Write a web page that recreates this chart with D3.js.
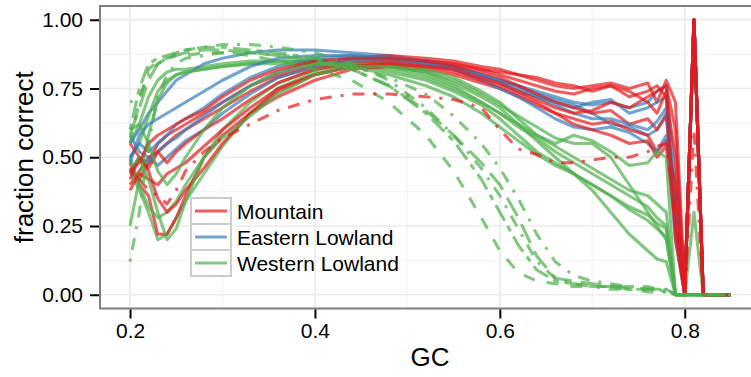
<!DOCTYPE html>
<html>
<head>
<meta charset="utf-8">
<script src="https://cdn.jsdelivr.net/npm/d3@7"></script>
<style>
  body { margin: 0; background: #fff; }
  svg { display: block; font-family: "Liberation Sans", Arial, sans-serif; }
</style>
</head>
<body>
<div id="chart"></div>
<script>
// GC content bins (x values shared by every curve)
var gc = [0.20,0.21,0.22,0.23,0.24,0.25,0.26,0.28,0.30,0.33,0.36,0.40,0.44,0.48,0.52,0.55,0.58,0.60,0.62,0.64,0.66,0.68,0.70,0.72,0.74,0.76,0.77,0.78,0.79,0.80,0.81,0.82,0.85];

// fraction correct, one row per individual
var mountain = [
  [0.45,0.42,0.48,0.55,0.58,0.60,0.62,0.66,0.70,0.76,0.80,0.84,0.86,0.87,0.86,0.85,0.83,0.82,0.80,0.78,0.76,0.75,0.76,0.77,0.75,0.77,0.70,0.78,0.70,0.02,1.00,0.00,0.00],
  [0.40,0.45,0.50,0.52,0.55,0.58,0.60,0.64,0.68,0.74,0.79,0.83,0.85,0.86,0.85,0.84,0.82,0.80,0.78,0.76,0.74,0.73,0.75,0.76,0.72,0.74,0.76,0.72,0.50,0.00,1.00,0.00,0.00],
  [0.48,0.40,0.36,0.22,0.22,0.28,0.36,0.50,0.58,0.66,0.72,0.78,0.82,0.83,0.82,0.80,0.77,0.75,0.72,0.69,0.66,0.64,0.62,0.63,0.60,0.58,0.52,0.56,0.40,0.00,1.00,0.00,0.00],
  [0.42,0.50,0.46,0.52,0.48,0.52,0.55,0.60,0.64,0.71,0.77,0.82,0.84,0.85,0.84,0.83,0.81,0.79,0.76,0.73,0.70,0.68,0.66,0.67,0.62,0.64,0.60,0.65,0.30,0.00,1.00,0.00,0.00],
  [0.38,0.44,0.42,0.40,0.44,0.46,0.48,0.54,0.60,0.68,0.75,0.80,0.83,0.84,0.83,0.81,0.78,0.76,0.73,0.70,0.66,0.62,0.60,0.58,0.55,0.56,0.50,0.54,0.25,0.00,1.00,0.00,0.00],
  [0.55,0.50,0.45,0.35,0.30,0.33,0.38,0.46,0.55,0.66,0.74,0.80,0.83,0.84,0.83,0.82,0.79,0.77,0.74,0.71,0.68,0.66,0.67,0.70,0.68,0.72,0.74,0.76,0.60,0.00,1.00,0.00,0.00],
  [0.45,0.48,0.55,0.58,0.60,0.62,0.64,0.67,0.72,0.78,0.82,0.85,0.86,0.86,0.85,0.84,0.82,0.81,0.80,0.79,0.77,0.76,0.74,0.76,0.74,0.70,0.66,0.74,0.20,0.00,1.00,0.00,0.00],
  [0.45,0.42,0.38,0.36,0.33,0.38,0.45,0.52,0.57,0.62,0.67,0.71,0.73,0.73,0.72,0.71,0.68,0.60,0.53,0.51,0.48,0.48,0.49,0.50,0.50,0.52,0.54,0.55,0.30,0.00,0.60,0.00,0.00]
];
var mountainLty = ['solid','solid','solid','solid','solid','solid','solid','dotdash'];

var eastern = [
  [0.55,0.60,0.66,0.70,0.74,0.78,0.80,0.84,0.86,0.88,0.89,0.89,0.88,0.87,0.85,0.83,0.80,0.78,0.76,0.74,0.72,0.70,0.69,0.70,0.68,0.70,0.74,0.76,0.40,0.00,1.00,0.00,0.00],
  [0.50,0.55,0.52,0.55,0.58,0.62,0.64,0.68,0.73,0.79,0.83,0.86,0.87,0.86,0.85,0.83,0.80,0.78,0.75,0.72,0.70,0.68,0.70,0.71,0.66,0.68,0.70,0.72,0.30,0.00,1.00,0.00,0.00],
  [0.45,0.50,0.48,0.52,0.55,0.57,0.60,0.65,0.70,0.76,0.81,0.85,0.86,0.86,0.85,0.83,0.80,0.78,0.76,0.73,0.71,0.69,0.66,0.62,0.61,0.58,0.60,0.66,0.35,0.00,1.00,0.00,0.00],
  [0.58,0.52,0.50,0.47,0.50,0.53,0.56,0.60,0.66,0.73,0.79,0.83,0.85,0.85,0.84,0.82,0.78,0.75,0.72,0.68,0.64,0.61,0.60,0.61,0.59,0.55,0.52,0.58,0.20,0.00,1.00,0.00,0.00],
  [0.48,0.58,0.62,0.64,0.66,0.68,0.70,0.74,0.78,0.83,0.86,0.87,0.87,0.86,0.84,0.82,0.79,0.77,0.74,0.72,0.69,0.66,0.64,0.64,0.62,0.60,0.63,0.68,0.25,0.00,1.00,0.00,0.00]
];
var easternLty = ['solid','solid','solid','solid','solid'];

var western = [
  [0.55,0.62,0.72,0.78,0.81,0.82,0.82,0.83,0.84,0.85,0.85,0.85,0.84,0.82,0.79,0.75,0.70,0.66,0.61,0.57,0.52,0.48,0.44,0.40,0.36,0.32,0.28,0.25,0.00,0.00,0.00,0.00,0.00],
  [0.50,0.55,0.65,0.74,0.78,0.80,0.81,0.82,0.83,0.84,0.85,0.85,0.84,0.81,0.78,0.74,0.69,0.64,0.58,0.52,0.48,0.44,0.40,0.36,0.32,0.29,0.26,0.24,0.00,0.00,0.00,0.00,0.00],
  [0.45,0.38,0.30,0.20,0.22,0.28,0.34,0.44,0.54,0.66,0.75,0.81,0.83,0.83,0.81,0.78,0.73,0.69,0.65,0.61,0.57,0.55,0.55,0.50,0.40,0.30,0.25,0.20,0.00,0.00,0.00,0.00,0.00],
  [0.50,0.40,0.32,0.28,0.30,0.34,0.40,0.50,0.60,0.70,0.77,0.82,0.84,0.84,0.82,0.79,0.74,0.70,0.64,0.58,0.54,0.50,0.46,0.42,0.38,0.36,0.33,0.30,0.00,0.00,0.00,0.00,0.00],
  [0.25,0.42,0.58,0.71,0.77,0.80,0.81,0.82,0.83,0.84,0.84,0.84,0.83,0.80,0.76,0.72,0.66,0.61,0.56,0.51,0.47,0.44,0.40,0.36,0.31,0.27,0.24,0.21,0.00,0.00,0.30,0.00,0.00],
  [0.60,0.62,0.55,0.45,0.40,0.44,0.50,0.60,0.68,0.76,0.81,0.84,0.84,0.83,0.80,0.76,0.70,0.66,0.62,0.58,0.55,0.58,0.56,0.52,0.47,0.48,0.52,0.50,0.00,0.00,0.00,0.00,0.00],
  [0.45,0.50,0.42,0.30,0.20,0.24,0.34,0.50,0.57,0.65,0.73,0.80,0.83,0.83,0.81,0.77,0.72,0.68,0.62,0.56,0.50,0.44,0.38,0.30,0.22,0.16,0.13,0.12,0.00,0.00,0.00,0.00,0.00],
  [0.55,0.70,0.82,0.85,0.86,0.87,0.87,0.88,0.88,0.87,0.85,0.82,0.78,0.70,0.58,0.45,0.28,0.16,0.08,0.05,0.04,0.03,0.03,0.03,0.02,0.02,0.02,0.02,0.00,0.00,0.00,0.00,0.00],
  [0.70,0.72,0.80,0.84,0.86,0.88,0.89,0.90,0.91,0.91,0.90,0.88,0.84,0.78,0.68,0.58,0.46,0.36,0.24,0.12,0.06,0.04,0.03,0.02,0.02,0.01,0.01,0.01,0.00,0.00,0.00,0.00,0.00],
  [0.58,0.68,0.78,0.84,0.86,0.87,0.88,0.89,0.89,0.88,0.87,0.85,0.82,0.76,0.67,0.58,0.48,0.40,0.28,0.14,0.06,0.05,0.04,0.03,0.03,0.02,0.02,0.02,0.00,0.00,0.00,0.00,0.00],
  [0.12,0.30,0.55,0.72,0.80,0.84,0.86,0.87,0.88,0.88,0.87,0.86,0.83,0.79,0.73,0.65,0.55,0.46,0.35,0.22,0.12,0.07,0.05,0.04,0.03,0.03,0.02,0.02,0.00,0.00,0.00,0.00,0.00],
  [0.60,0.75,0.84,0.86,0.87,0.88,0.89,0.90,0.90,0.89,0.88,0.86,0.82,0.76,0.66,0.56,0.42,0.30,0.18,0.09,0.05,0.04,0.03,0.03,0.02,0.02,0.02,0.01,0.00,0.00,0.00,0.00,0.00]
];
var westernLty = ['solid','solid','solid','solid','solid','solid','solid','dashed','dotdash','longdash','dotdash','twodash'];

var groups = ['Mountain', 'Eastern Lowland', 'Western Lowland'];
var yTicks = [0, 0.25, 0.5, 0.75, 1];
var yMinor = [0.125, 0.375, 0.625, 0.875];
var xTicks = [0.2, 0.4, 0.6, 0.8];
var xMinor = [0.3, 0.5, 0.7];

var width = 751, height = 377;
var color = d3.scaleOrdinal().domain(groups).range(['#E41A1C', '#377EB8', '#4DAF4A']);
var dash = { solid: null, dashed: '12,12', dotted: '3,9', dotdash: '3,9,12,9', longdash: '21,9', twodash: '6,6,18,6' };

// ggplot-like 5% expansion around 0.2..0.85 and 0..1
var x = d3.scaleLinear().domain([0.1675, 0.8825]).range([100, 761]);
var y = d3.scaleLinear().domain([-0.05, 1.05]).range([308.5, 6]);

var svg = d3.select('#chart').append('svg')
  .attr('width', width)
  .attr('height', height);

svg.append('defs').append('clipPath').attr('id', 'panel')
  .append('rect')
  .attr('x', x.range()[0]).attr('y', y.range()[1])
  .attr('width', x.range()[1] - x.range()[0])
  .attr('height', y.range()[0] - y.range()[1]);

svg.append('rect')
  .attr('x', x.range()[0]).attr('y', y.range()[1])
  .attr('width', x.range()[1] - x.range()[0])
  .attr('height', y.range()[0] - y.range()[1])
  .attr('fill', '#fff');

// grid: minor first, then major
var grid = svg.append('g');
grid.selectAll('.ym').data(yMinor).enter().append('line')
  .attr('x1', x.range()[0]).attr('x2', x.range()[1])
  .attr('y1', y).attr('y2', y)
  .attr('stroke', '#F4F4F4').attr('stroke-width', 1.2);
grid.selectAll('.xm').data(xMinor).enter().append('line')
  .attr('y1', y.range()[0]).attr('y2', y.range()[1])
  .attr('x1', x).attr('x2', x)
  .attr('stroke', '#F4F4F4').attr('stroke-width', 1.2);
grid.selectAll('.yM').data(yTicks).enter().append('line')
  .attr('x1', x.range()[0]).attr('x2', x.range()[1])
  .attr('y1', y).attr('y2', y)
  .attr('stroke', '#EBEBEB').attr('stroke-width', 1.6);
grid.selectAll('.xM').data(xTicks).enter().append('line')
  .attr('y1', y.range()[0]).attr('y2', y.range()[1])
  .attr('x1', x).attr('x2', x)
  .attr('stroke', '#EBEBEB').attr('stroke-width', 1.6);

// build series list, individuals of the three groups interleaved
var series = [];
var byGroup = [[mountain, mountainLty, 'Mountain'], [eastern, easternLty, 'Eastern Lowland'], [western, westernLty, 'Western Lowland']];
var maxRows = d3.max(byGroup, function (g) { return g[0].length; });
for (var i = 0; i < maxRows; i++) {
  [2, 1, 0].forEach(function (k) {
    var g = byGroup[k];
    if (i < g[0].length) {
      series.push({ group: g[2], lty: g[1][i], values: g[0][i].map(function (v, j) { return [gc[j], v]; }) });
    }
  });
}

var line = d3.line()
  .x(function (d) { return x(d[0]); })
  .y(function (d) { return y(d[1]); });

svg.append('g')
  .attr('clip-path', 'url(#panel)')
  .selectAll('path')
  .data(series)
  .enter()
  .append('path')
  .attr('d', function (d) { return line(d.values); })
  .attr('fill', 'none')
  .attr('stroke', function (d) { return color(d.group); })
  .attr('stroke-opacity', 0.7)
  .attr('stroke-width', 3.1)
  .attr('stroke-linejoin', 'round')
  .attr('stroke-dasharray', function (d) { return dash[d.lty]; });

// panel border
svg.append('rect')
  .attr('x', x.range()[0]).attr('y', y.range()[1])
  .attr('width', x.range()[1] - x.range()[0])
  .attr('height', y.range()[0] - y.range()[1])
  .attr('fill', 'none')
  .attr('stroke', '#7F7F7F')
  .attr('stroke-width', 2);

// axes
var yAxis = svg.append('g')
  .attr('transform', 'translate(' + (x.range()[0] - 1) + ',0)')
  .call(d3.axisLeft(y).tickValues(yTicks).tickFormat(d3.format('.2f')).tickSize(9).tickPadding(7));
var xAxis = svg.append('g')
  .attr('transform', 'translate(0,' + (y.range()[0] + 1) + ')')
  .call(d3.axisBottom(x).tickValues(xTicks).tickFormat(d3.format('.1f')).tickSize(9).tickPadding(5));
[yAxis, xAxis].forEach(function (a) {
  a.select('.domain').remove();
  a.selectAll('.tick line').attr('stroke', '#000').attr('stroke-width', 2);
  a.selectAll('.tick text').attr('fill', '#000').style('font-size', '21px')
    .style('font-family', '"Liberation Sans", Arial, sans-serif');
});

svg.append('text')
  .attr('x', (x.range()[0] + x.range()[1]) / 2 - 0.5)
  .attr('y', 366)
  .attr('text-anchor', 'middle')
  .style('font-size', '26px')
  .text('GC');

svg.append('text')
  .attr('transform', 'translate(33,' + ((y.range()[0] + y.range()[1]) / 2) + ') rotate(-90)')
  .attr('text-anchor', 'middle')
  .style('font-size', '26px')
  .text('fraction correct');

// legend
var keyH = 26, keyW = 40;
var legend = svg.selectAll('.legend')
  .data(groups)
  .enter()
  .append('g')
  .attr('class', 'legend')
  .attr('transform', function (d, i) { return 'translate(191,' + (198 + i * keyH) + ')'; });
legend.append('rect')
  .attr('width', keyW)
  .attr('height', keyH)
  .attr('fill', '#fff')
  .attr('stroke', '#CCCCCC')
  .attr('stroke-width', 2);
legend.append('line')
  .attr('x1', 4).attr('x2', keyW - 4)
  .attr('y1', keyH / 2).attr('y2', keyH / 2)
  .attr('stroke', color)
  .attr('stroke-opacity', 0.7)
  .attr('stroke-width', 3);
legend.append('text')
  .attr('x', keyW + 6)
  .attr('y', keyH / 2)
  .attr('dy', '0.36em')
  .style('font-size', '21px')
  .text(function (d) { return d; });
</script>
</body>
</html>
